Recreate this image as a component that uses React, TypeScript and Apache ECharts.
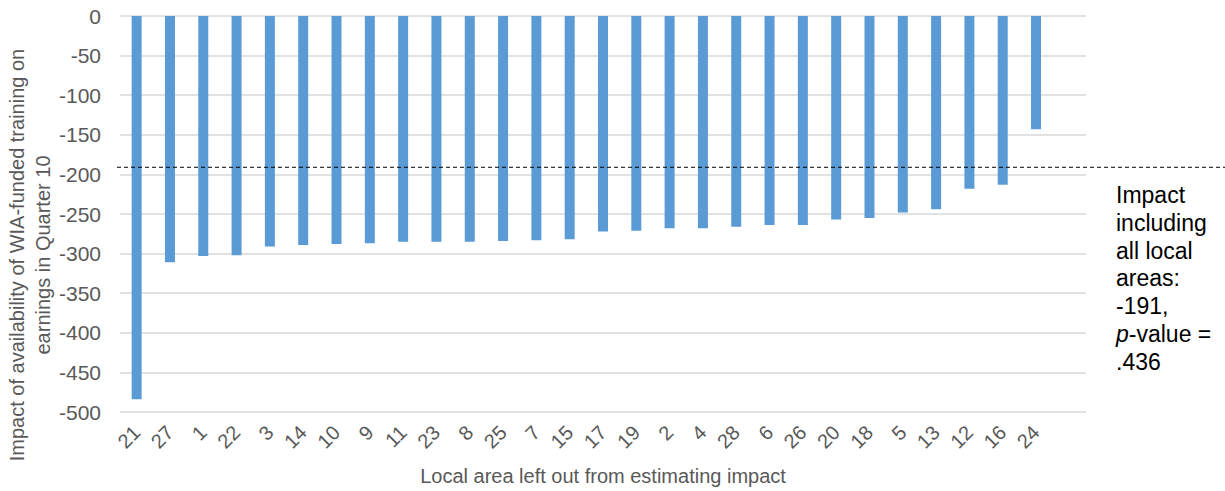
import React, { useEffect, useRef } from "react";
import * as echarts from "echarts";

const categories = ["21","27","1","22","3","14","10","9","11","23","8","25","7","15","17","19","2","4","28","6","26","20","18","5","13","12","16","24",""];
const impacts = [-484,-311,-303,-302,-291,-289,-288,-287,-285,-285,-285,-284,-283,-282,-272,-271,-268,-268,-266,-264,-264,-257,-255,-248,-244,-218,-213,-143,null];
const overallImpact = -191;
const yTitle = "Impact of availability of WIA-funded training on\nearnings in Quarter 10";
const xTitle = "Local area left out from estimating impact";
const noteText = "Impact\nincluding\nall local\nareas:\n-191,\n{i|p}-value =\n.436";

export default function App() {
  const ref = useRef<HTMLDivElement>(null);
  useEffect(() => {
    if (!ref.current) return;
    const chart = echarts.init(ref.current, null, { renderer: "svg" });
    const font = "Liberation Sans, Arial, sans-serif";
    chart.setOption({
      animation: false,
      grid: { left: 120, right: 139, top: 16, height: 396 },
      xAxis: {
        type: "category",
        data: categories,
        axisTick: { show: false },
        axisLine: { show: false },
        axisLabel: { rotate: 45, color: "#595959", fontSize: 20, fontFamily: font, margin: 17, interval: 0 },
      },
      yAxis: {
        type: "value",
        min: -500,
        max: 0,
        interval: 50,
        axisLabel: { color: "#595959", fontSize: 21, fontFamily: font, margin: 19 },
        splitLine: { lineStyle: { color: "#d9d9d9", width: 1.5 } },
        axisLine: { show: false },
        axisTick: { show: false },
      },
      series: [
        {
          type: "bar",
          data: impacts,
          barWidth: 10,
          itemStyle: { color: "#5b9bd5" },
        },
      ],
    });
    const yPix = chart.convertToPixel({ yAxisIndex: 0 }, overallImpact) as number;
    chart.setOption({
      graphic: [
        {
          type: "line",
          shape: { x1: 117, y1: yPix, x2: 1225, y2: yPix },
          style: { stroke: "#000", lineWidth: 1, lineDash: [4, 3] },
          z: 10,
        },
        {
          type: "text",
          x: 30,
          y: 255,
          rotation: Math.PI / 2,
          style: {
            text: yTitle,
            font: `20px ${font}`,
            fill: "#595959",
            align: "center",
            verticalAlign: "middle",
            lineHeight: 26,
          },
        },
        {
          type: "text",
          x: 603,
          y: 476,
          style: {
            text: xTitle,
            font: `20px ${font}`,
            fill: "#595959",
            align: "center",
            verticalAlign: "middle",
          },
        },
        {
          type: "text",
          x: 1116,
          y: 181,
          style: {
            text: noteText,
            fontSize: 23,
            fontFamily: font,
            fill: "#000",
            align: "left",
            verticalAlign: "top",
            lineHeight: 27.8,
            rich: {
              i: { fontStyle: "italic", fontSize: 23, fontFamily: font, lineHeight: 27.8, fill: "#000" },
            },
          },
        },
      ],
    });
    return () => chart.dispose();
  }, []);
  return <div ref={ref} style={{ position: "fixed", left: 0, top: 0, width: 1225, height: 491, background: "#fff" }} />;
}
